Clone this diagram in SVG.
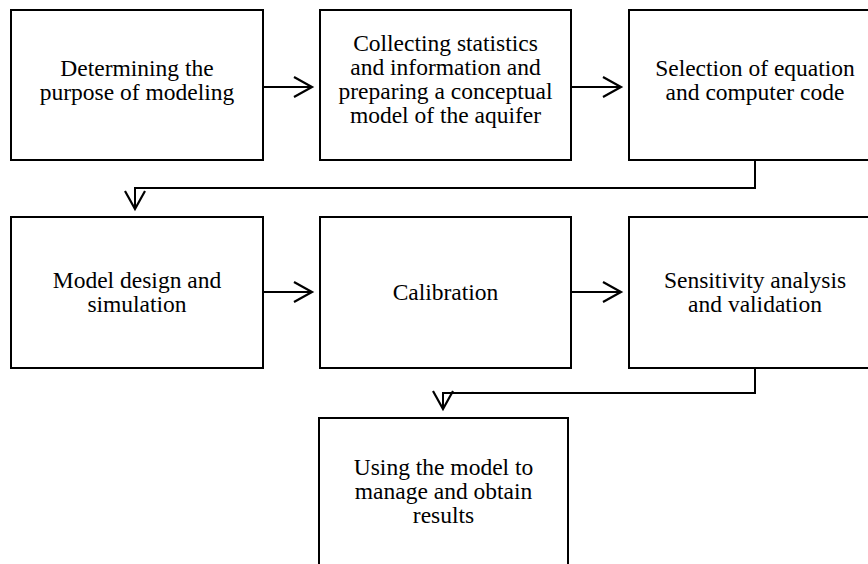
<svg xmlns="http://www.w3.org/2000/svg" width="868" height="564" viewBox="0 0 868 564">
<defs>
<style>
.box{fill:#fff;stroke:#000;stroke-width:2}
.lbl{font-family:"Liberation Serif","Times New Roman",serif;font-size:23.5px;fill:#000;text-anchor:middle}
.conn{fill:none;stroke:#000;stroke-width:2}
</style>
<marker id="ah" markerUnits="userSpaceOnUse" markerWidth="24" markerHeight="24" refX="18" refY="10" orient="auto" viewBox="-2 -2 24 24">
<path d="M0,0 L18,10 L0,20" fill="none" stroke="#000" stroke-width="2.2"/>
</marker>
</defs>
<rect width="868" height="564" fill="#fff"/>
<g id="n1"><rect class="box" x="11" y="10" width="252" height="150"/>
<text class="lbl" x="137" y="76">Determining the</text><text class="lbl" x="137" y="100">purpose of modeling</text></g>
<g id="n2"><rect class="box" x="320" y="10" width="251" height="150"/>
<text class="lbl" x="445.5" y="51">Collecting statistics</text><text class="lbl" x="445.5" y="75">and information and</text><text class="lbl" x="445.5" y="99">preparing a conceptual</text><text class="lbl" x="445.5" y="123">model of the aquifer</text></g>
<g id="n3"><rect class="box" x="629" y="10" width="252" height="150"/>
<text class="lbl" x="755" y="76">Selection of equation</text><text class="lbl" x="755" y="100">and computer code</text></g>
<g id="n4"><rect class="box" x="11" y="217" width="252" height="151"/>
<text class="lbl" x="137" y="288">Model design and</text><text class="lbl" x="137" y="312">simulation</text></g>
<g id="n5"><rect class="box" x="320" y="217" width="251" height="151"/>
<text class="lbl" x="445.5" y="300">Calibration</text></g>
<g id="n6"><rect class="box" x="629" y="217" width="252" height="151"/>
<text class="lbl" x="755" y="288">Sensitivity analysis</text><text class="lbl" x="755" y="312">and validation</text></g>
<g id="n7"><rect class="box" x="319" y="418" width="249" height="170"/>
<text class="lbl" x="443.5" y="475">Using the model to</text><text class="lbl" x="443.5" y="499">manage and obtain</text><text class="lbl" x="443.5" y="523">results</text></g>
<g id="connectors">
<path class="conn" d="M263,87 H312" marker-end="url(#ah)"/>
<path class="conn" d="M571,87 H621" marker-end="url(#ah)"/>
<path class="conn" d="M755,160 V188 H135 V209" marker-end="url(#ah)"/>
<path class="conn" d="M263,292 H312" marker-end="url(#ah)"/>
<path class="conn" d="M571,292 H621" marker-end="url(#ah)"/>
<path class="conn" d="M755,368 V393 H443 V409" marker-end="url(#ah)"/>
</g>
</svg>
